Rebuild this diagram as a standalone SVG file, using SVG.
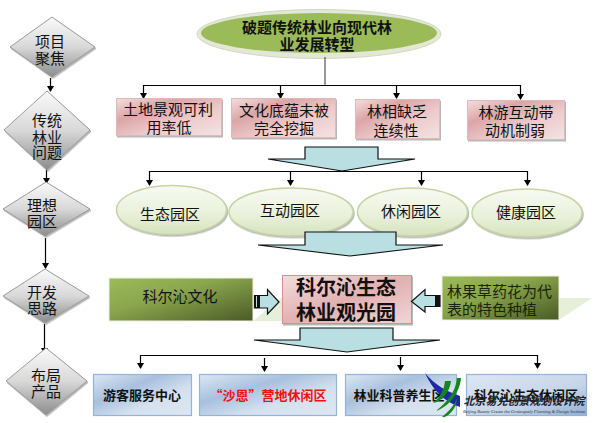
<svg xmlns="http://www.w3.org/2000/svg" width="594" height="423" viewBox="0 0 594 423">
<style>
text{font-family:"Noto Sans CJK SC","Liberation Sans",sans-serif;text-anchor:middle;fill:#111}
.t15{font-size:15px}.b{font-weight:700}
.dia{fill:url(#gd);stroke:#9a9a9a;stroke-width:1;filter:url(#sh)}
.red{fill:url(#gr);stroke:#e4b8b9;stroke-width:1;filter:url(#sh)}
.ell{fill:url(#ge);stroke:#c5d5a5;stroke-width:1.5;filter:url(#sh)}
.blue{fill:url(#gb);stroke:#93b3d8;stroke-width:1.2}
.blk{fill:#b9dfe3;stroke:#111;stroke-width:1.2}
.c{fill:none;stroke:#000;stroke-width:1.2}
.a{fill:none;stroke:#000;stroke-width:1.2;marker-end:url(#ah)}
</style>
<defs>
<marker id="ah" markerWidth="6" markerHeight="7" refX="5" refY="3.5" orient="auto" markerUnits="userSpaceOnUse"><path d="M0 0L6 3.5L0 7z" fill="#000"/></marker>
<filter id="sh" x="-10%" y="-10%" width="120%" height="125%"><feDropShadow dx="1" dy="1.5" stdDeviation="0.6" flood-color="#888" flood-opacity="0.6"/></filter>
<linearGradient id="gd" x1="0" y1="0" x2="0" y2="1"><stop offset="0" stop-color="#fafafa"/><stop offset="0.5" stop-color="#d8d8d8"/><stop offset="1" stop-color="#8c8c8c"/></linearGradient>
<linearGradient id="gr" x1="0" y1="0" x2="1" y2="1"><stop offset="0" stop-color="#f3dfdf"/><stop offset="0.3" stop-color="#dca5a7"/><stop offset="0.6" stop-color="#ecc9ca"/><stop offset="1" stop-color="#f4e3e3"/></linearGradient>
<linearGradient id="gr3" x1="0" y1="0" x2="1" y2="1"><stop offset="0" stop-color="#f3dede"/><stop offset="0.5" stop-color="#e2b0b1"/><stop offset="1" stop-color="#f0d6d6"/></linearGradient>
<linearGradient id="ge" x1="0" y1="0" x2="0" y2="1"><stop offset="0" stop-color="#f8faf2"/><stop offset="0.6" stop-color="#e8f0d8"/><stop offset="1" stop-color="#d5e2bd"/></linearGradient>
<linearGradient id="gb" x1="0" y1="0" x2="1" y2="1"><stop offset="0" stop-color="#dde7f3"/><stop offset="0.35" stop-color="#a8c0de"/><stop offset="0.65" stop-color="#d5e1ef"/><stop offset="1" stop-color="#dde7f3"/></linearGradient>
<linearGradient id="gb2" x1="0" y1="0" x2="1" y2="1"><stop offset="0" stop-color="#dde7f3"/><stop offset="0.6" stop-color="#c5d5e9"/><stop offset="1" stop-color="#92b0d5"/></linearGradient>
<linearGradient id="go" x1="0" y1="0" x2="1" y2="1"><stop offset="0" stop-color="#9bbb59"/><stop offset="0.4" stop-color="#8aa64d"/><stop offset="1" stop-color="#4a5a26"/></linearGradient>
</defs>

<g id="diamond-connectors">
<path class="a" d="M50.500 78V91"/>
<path class="a" d="M46.500 170V183"/>
<path class="a" d="M45.500 238V268"/>
<path class="a" d="M44.500 324V353"/>
</g>

<g id="node-d1"><polygon class="dia" points="52,17 95,47 52,77 10,47"/><text class="t15" x="50" y="47">项目</text><text class="t15" x="50" y="64">聚焦</text></g>
<g id="node-d2"><polygon class="dia" points="47,91 90,130 47,170 4,130"/><text class="t15" x="47" y="126">传统</text><text class="t15" x="47" y="143">林业</text><text class="t15" x="47" y="158">问题</text></g>
<g id="node-d3"><polygon class="dia" points="46,182 90,209 45,236 3,209"/><text class="t15" x="42" y="211">理想</text><text class="t15" x="42" y="227">园区</text></g>
<g id="node-d4"><polygon class="dia" points="45,269 89,296 45,323 3,296"/><text class="t15" x="42" y="298">开发</text><text class="t15" x="42" y="314">思路</text></g>
<g id="node-d5"><polygon class="dia" points="46,348 87,381 46,415 6,381"/><text class="t15" x="46" y="381">布局</text><text class="t15" x="46" y="397">产品</text></g>

<g id="node-title"><ellipse cx="319" cy="34" rx="122" ry="24.500" fill="#e3e8d5" stroke="#d0d8c0"/><ellipse cx="319" cy="33" rx="118" ry="20" fill="#9bbb59"/><text class="t15 b" x="317" y="33">破题传统林业向现代林</text><text class="t15 b" x="317" y="50">业发展转型</text></g>

<g id="connectors">
<path class="c" d="M325 57V85.500" style="stroke:#555"/>
<path class="c" d="M143 85.500H520.500"/>
<path class="a" d="M143.500 85V98"/><path class="a" d="M280.500 85V98"/><path class="a" d="M396.500 85V98"/><path class="a" d="M520.500 85V99"/>
<path class="c" d="M149 171.500H527"/>
<path class="a" d="M149.500 171V185"/><path class="a" d="M290.500 171V185"/><path class="a" d="M421.500 171V185"/><path class="a" d="M527.500 171V185"/>
<path class="c" d="M140 355.500H537.500"/>
<path class="a" d="M140.500 355V368"/><path class="a" d="M264.500 358V371"/><path class="a" d="M400.500 357V370"/><path class="a" d="M537.500 355V368"/>
</g>

<g id="node-p1"><rect class="red" x="116.500" y="98.500" width="105" height="37"/><text class="t15" x="168" y="115">土地景观可利</text><text class="t15" x="169" y="133">用率低</text></g>
<g id="node-p2"><rect class="red" x="231.500" y="98.500" width="104" height="39"/><text class="t15" x="284" y="116">文化底蕴未被</text><text class="t15" x="284" y="134">完全挖掘</text></g>
<g id="node-p3"><rect class="red" x="355.500" y="99.500" width="84" height="39"/><text class="t15" x="397" y="117">林相缺乏</text><text class="t15" x="396" y="136">连续性</text></g>
<g id="node-p4"><rect class="red" x="467.500" y="100.500" width="97" height="39"/><text class="t15" x="516" y="118">林游互动带</text><text class="t15" x="515" y="136">动机制弱</text></g>

<g id="arrow-1"><polygon class="blk" points="305,147 378,147 378,159 415,159 342,171 268,159 305,159"/></g>

<g id="node-e1"><ellipse class="ell" cx="171.500" cy="210" rx="55" ry="24.500"/><text class="t15" x="170" y="220">生态园区</text></g>
<g id="node-e2"><ellipse class="ell" cx="291" cy="212" rx="62" ry="24"/><text class="t15" x="290" y="216">互动园区</text></g>
<g id="node-e3"><ellipse class="ell" cx="412.500" cy="212" rx="55" ry="24"/><text class="t15" x="411" y="217">休闲园区</text></g>
<g id="node-e4"><ellipse class="ell" cx="527" cy="213" rx="55" ry="24"/><text class="t15" x="526" y="218">健康园区</text></g>

<g id="arrow-2"><polygon class="blk" points="305,232 396,232 396,245 443,245 350,256 258,245 305,245"/></g>

<g id="node-culture">
<polygon points="253,321 282,297 282,321" fill="#e6efd9"/>
<rect x="109" y="278" width="144" height="43" fill="url(#go)" stroke="#eef2e4"/>
<text class="t15" x="180" y="302">科尔沁文化</text></g>
<g id="node-plant">
<polygon points="559,320 592,298 559,298" fill="#e6efd9"/>
<rect x="442" y="276" width="117" height="44" fill="url(#go)" stroke="#eef2e4"/>
<text class="t15" x="499.500" y="297" style="fill:#1a2408">林果草药花为代</text><text class="t15" x="492" y="315" style="fill:#1a2408">表的特色种植</text></g>
<g id="node-center"><rect x="282.500" y="275.500" width="129" height="48" fill="url(#gr3)" stroke="#d58f90" filter="url(#sh)"/><text class="b" font-size="20" x="346" y="295">科尔沁生态</text><text class="b" font-size="20" x="346" y="320">林业观光园</text></g>
<g id="arrow-left"><polygon class="blk" points="254.500,295.500 267.500,295.500 267.500,289.500 279,302 267.500,314 267.500,308 254.500,308"/><rect x="254" y="295" width="6" height="13" fill="#111"/><rect x="256" y="296" width="1" height="11" fill="#b9dfe3"/></g>
<g id="arrow-right"><polygon class="blk" points="440,295.500 425,295.500 425,289.500 411.500,301.500 425,312 425,306.500 440,306.500"/><rect x="435" y="295" width="5" height="12" fill="#111"/></g>

<g id="arrow-3"><polygon class="blk" points="300,328 393,328 393,340 440,340 347,352 254,340 300,340"/></g>

<g id="node-b1"><rect class="blue" x="93.500" y="374.500" width="98" height="41"/><text class="b" font-size="13" x="142" y="400">游客服务中心</text></g>
<g id="node-b2"><rect class="blue" x="199.500" y="374.500" width="137" height="41"/><text class="b" font-size="13" x="268" y="400" style="fill:#f01010">“沙恩”营地休闲区</text></g>
<g id="node-b3"><rect class="blue" x="345.500" y="374.500" width="111" height="41"/><text class="b" font-size="13" x="399" y="400">林业科普养生区</text></g>
<g id="node-b4"><rect class="blue" x="466.500" y="374.500" width="120" height="41" style="fill:url(#gb2)"/><text class="b" font-size="13" x="526" y="400">科尔沁生态休闲区</text></g>

<g id="watermark">
<path d="M425 373C435 385 446 391 460 396L460 407C444 402 432 389 425 373z" fill="#1c2aa8"/>
<path d="M445 381C444 392 438 399 433 403C441 402 450 392 451 381z" fill="#14861e"/>
<path d="M457 378C456 392 446 403 436 411C450 406 460 392 461 378z" fill="#14861e"/>
<path d="M457 398C454 406 448 412 442 417C446 418 452 413 456 405z" fill="#14861e"/>
<text x="524" y="405" font-size="11" font-weight="700" style="fill:#222;font-style:italic">北京易兑创景规划设计院</text>
<text x="524" y="413" font-size="4.500" textLength="122" lengthAdjust="spacingAndGlyphs" style="fill:#333;font-family:'Liberation Serif',serif;font-style:italic">Beijing Beauty Create the Grotesquely Planning &amp; Design Institute</text>
</g>
</svg>
